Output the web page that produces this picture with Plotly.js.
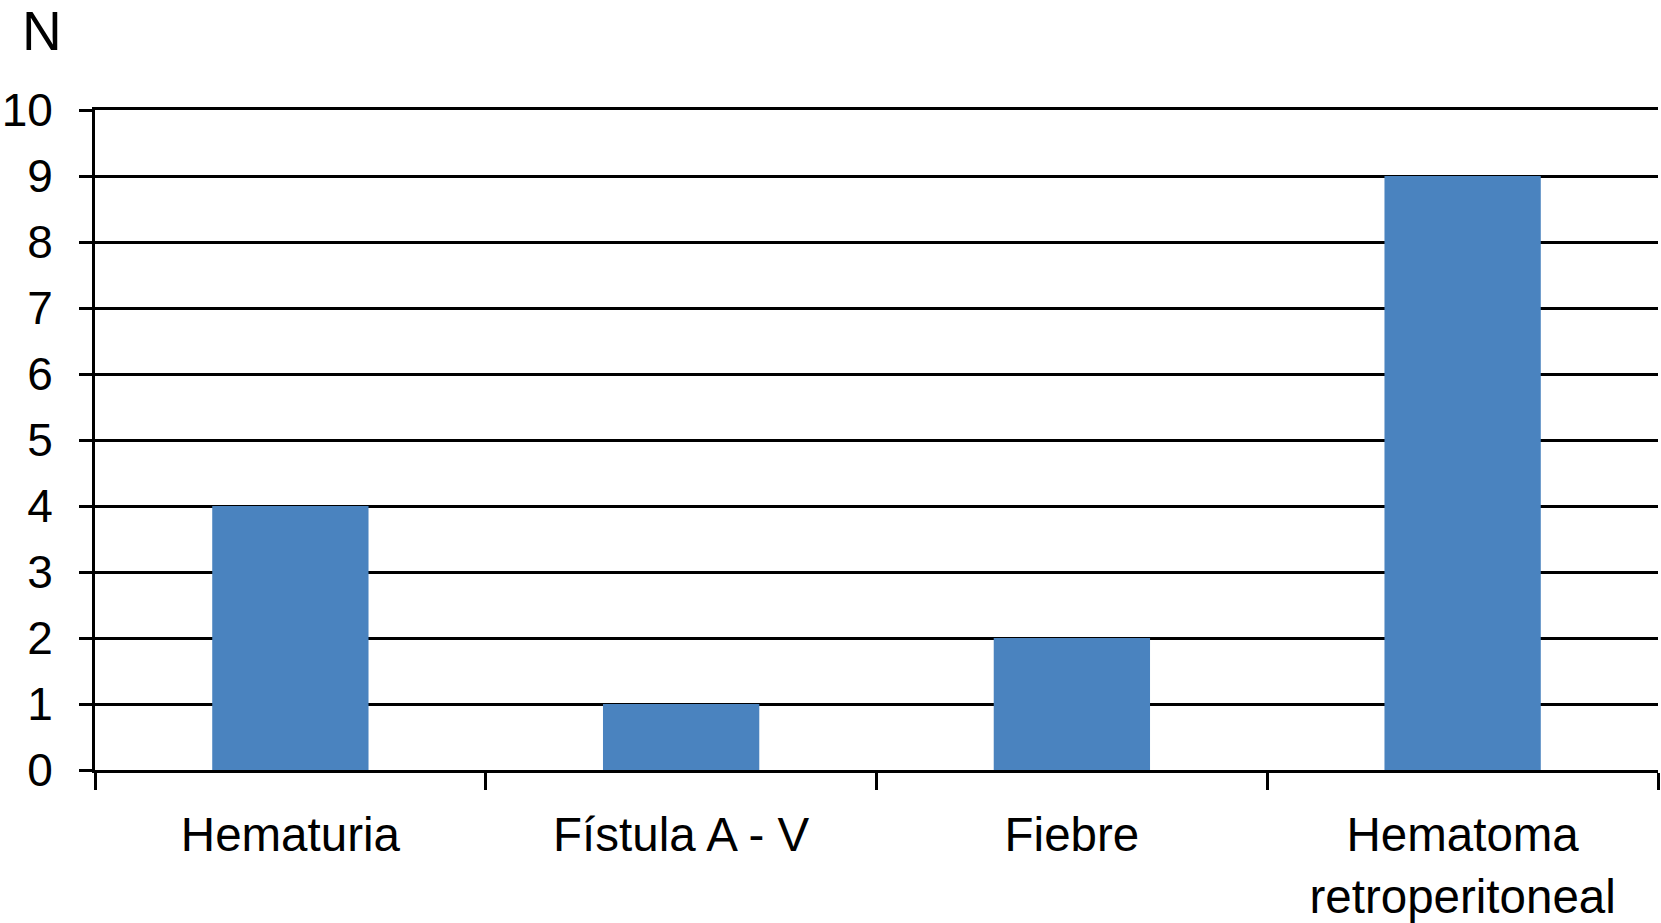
<!DOCTYPE html>
<html>
<head>
<meta charset="utf-8">
<script src="https://cdn.plot.ly/plotly-3.0.1.min.js"></script>
<style>
  html, body { margin: 0; padding: 0; background: #fff; }
  #chart { width: 1661px; height: 923px; }
</style>
</head>
<body>
<div id="chart"></div>
<script>
const categories = ['Hematuria', 'Fístula A - V', 'Fiebre', 'Hematoma<br>retroperitoneal'];
const counts = [4, 1, 2, 9];
const yTicks = [0, 1, 2, 3, 4, 5, 6, 7, 8, 9, 10];

const trace = {
    x: categories,
    y: counts,
    type: 'bar',
    width: 0.4,
    marker: { color: 'rgb(74, 131, 191)' },
    hoverinfo: 'x+y'
};

const layout = {
    width: 1661,
    height: 923,
    margin: { l: 95, r: 3, t: 110, b: 153 },
    paper_bgcolor: '#fff',
    plot_bgcolor: '#fff',
    font: { family: '"Liberation Sans", Arial, sans-serif', size: 46, color: '#000' },
    showlegend: false,
    xaxis: {
        type: 'category',
        range: [-0.5, 3.5],
        showgrid: false,
        showline: true,
        mirror: true,          // top line stands in for the gridline at 10
        linecolor: '#000',
        linewidth: 3,
        ticks: 'outside',
        tickson: 'boundaries',
        ticklen: 17,
        tickwidth: 3,
        tickcolor: '#000',
        ticklabelstandoff: 21,
        tickfont: { size: 47.5 }
    },
    yaxis: {
        range: [0, 10],
        tickvals: yTicks,
        showgrid: true,
        gridcolor: '#000',
        gridwidth: 3,
        zeroline: false,
        showline: true,
        linecolor: '#000',
        linewidth: 3,
        ticks: 'outside',
        ticklen: 13,
        tickwidth: 3,
        tickcolor: '#000',
        ticklabelstandoff: 17,
        tickfont: { size: 46 }
    },
    annotations: [{
        text: 'N',
        xref: 'paper', yref: 'paper',
        x: -0.034, y: 1.12,
        xanchor: 'center', yanchor: 'middle',
        showarrow: false,
        font: { size: 55, color: '#000' }
    }]
};

Plotly.newPlot('chart', [trace], layout, { displayModeBar: false, staticPlot: true });
</script>
</body>
</html>
